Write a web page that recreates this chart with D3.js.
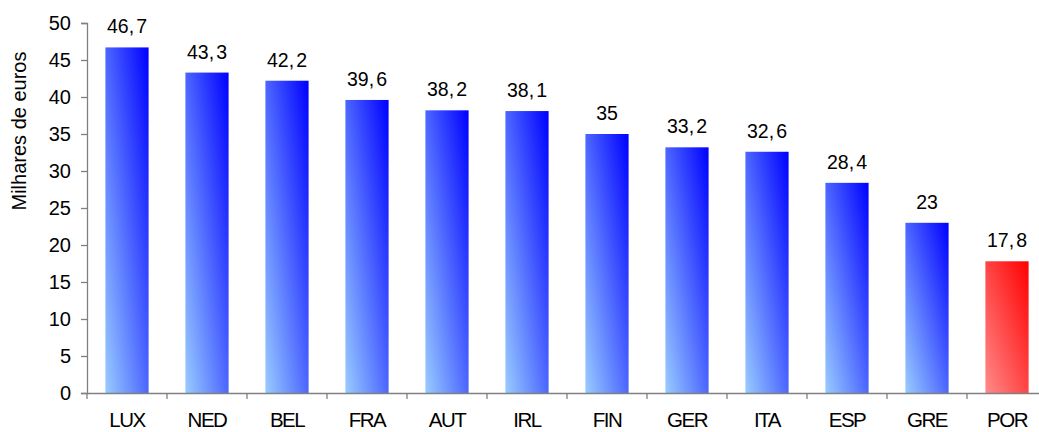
<!DOCTYPE html>
<html>
<head>
<meta charset="utf-8">
<script src="https://cdn.jsdelivr.net/npm/d3@7"></script>
<style>
  body { margin: 0; background: #fff; }
  svg text { font-family: "Liberation Sans", Arial, sans-serif; fill: #000; }
</style>
</head>
<body>
<div id="chart"></div>
<script>
// data
var countries = ["LUX", "NED", "BEL", "FRA", "AUT", "IRL", "FIN", "GER", "ITA", "ESP", "GRE", "POR"];
var values = [46.7, 43.3, 42.2, 39.6, 38.2, 38.1, 35, 33.2, 32.6, 28.4, 23, 17.8];
var highlight = ["POR"];
var yTicks = [0, 5, 10, 15, 20, 25, 30, 35, 40, 45, 50];
var yTitle = "Milhares de euros";

var W = 1039, H = 432;
var margin = {top: 23, left: 87, bottom: 39};
var plotBottom = H - margin.bottom;

var svg = d3.select("#chart")
  .append("svg")
    .attr("width", W)
    .attr("height", H);

// gradients: light bottom-left to saturated top-right
var defs = svg.append("defs");
function gradient(id, from, to) {
  var g = defs.append("linearGradient")
      .attr("id", id)
      .attr("x1", 0).attr("y1", 1)
      .attr("x2", 1).attr("y2", 0);
  g.append("stop").attr("offset", "0%").attr("stop-color", from);
  g.append("stop").attr("offset", "100%").attr("stop-color", to);
}
gradient("blueGrad", "#99ccff", "#0000ff");
gradient("redGrad", "#ff8a8a", "#ff0000");

var x = d3.scaleBand()
    .domain(countries)
    .range([margin.left, margin.left + countries.length * 80])
    .paddingInner(0.46)
    .paddingOuter(0.23);

var y = d3.scaleLinear()
    .domain([0, 50])
    .range([plotBottom, margin.top]);

var data = countries.map(function(c, i) { return {name: c, value: values[i]}; });

// bars
svg.selectAll("rect.bar")
    .data(data)
  .enter().append("rect")
    .attr("class", "bar")
    .attr("x", function(d) { return x(d.name); })
    .attr("y", function(d) { return y(d.value); })
    .attr("width", x.bandwidth())
    .attr("height", function(d) { return plotBottom - y(d.value); })
    .attr("fill", function(d) { return highlight.indexOf(d.name) >= 0 ? "url(#redGrad)" : "url(#blueGrad)"; });

// y axis
var yAxis = svg.append("g")
    .attr("transform", "translate(" + margin.left + ",0)")
    .call(d3.axisLeft(y).tickValues(yTicks).tickSize(6).tickPadding(10));
yAxis.select(".domain").attr("stroke", "#808080").attr("stroke-width", 1.3);
yAxis.selectAll(".tick line").attr("stroke", "#808080").attr("stroke-width", 1.3);
yAxis.selectAll(".tick text")
    .style("font-size", "20px");

// x axis
var xAxis = svg.append("g")
    .attr("transform", "translate(0," + plotBottom + ")")
    .call(d3.axisBottom(x).tickSize(0).tickPadding(19));
xAxis.select(".domain").attr("stroke", "#808080").attr("stroke-width", 1.3);
xAxis.selectAll(".tick text")
    .style("font-size", "20.5px")
    .style("letter-spacing", "-1.5px");

// ticks between categories
var bounds = countries.map(function(c) { return x(c) - x.step() * x.paddingOuter(); });
bounds.push(bounds[bounds.length - 1] + x.step());
xAxis.selectAll("line.sep")
    .data(bounds)
  .enter().append("line")
    .attr("class", "sep")
    .attr("x1", function(d) { return d; })
    .attr("x2", function(d) { return d; })
    .attr("y1", 0)
    .attr("y2", 6)
    .attr("stroke", "#808080")
    .attr("stroke-width", 1.3);

// value labels
var labels = svg.selectAll("text.val")
    .data(data)
  .enter().append("text")
    .attr("class", "val")
    .attr("x", function(d) { return x(d.name) + x.bandwidth() / 2; })
    .attr("y", function(d) { return y(d.value) - 14; })
    .attr("text-anchor", "middle")
    .style("font-size", "19.5px");
labels.each(function(d) {
  var parts = String(d.value).split(".");
  var t = d3.select(this);
  if (parts.length > 1) {
    t.append("tspan").text(parts[0] + ",");
    t.append("tspan").attr("dx", 2).text(parts[1]);
  } else {
    t.text(parts[0]);
  }
});

// y title
svg.append("text")
    .attr("transform", "translate(26,131) rotate(-90)")
    .attr("text-anchor", "middle")
    .style("font-size", "20px")
    .text(yTitle);
</script>
</body>
</html>
